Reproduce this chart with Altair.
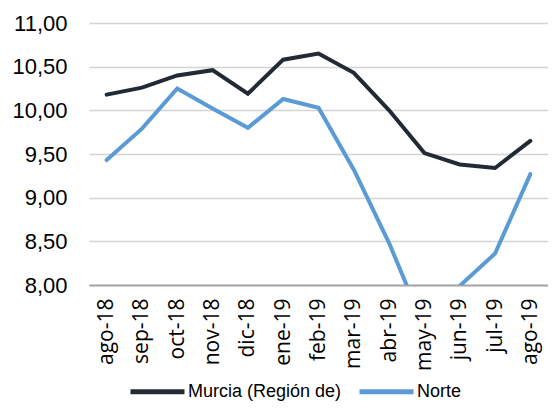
import altair as alt
import pandas as pd

months = ["ago-18", "sep-18", "oct-18", "nov-18", "dic-18", "ene-19", "feb-19",
          "mar-19", "abr-19", "may-19", "jun-19", "jul-19", "ago-19"]
series = ["Murcia (Región de)", "Norte"]
murcia = [10.18, 10.26, 10.40, 10.46, 10.19, 10.58, 10.65, 10.43, 10.00, 9.51, 9.38, 9.34, 9.65]
norte = [9.43, 9.79, 10.25, 10.02, 9.80, 10.13, 10.03, 9.32, 8.48, 7.51, 7.99, 8.36, 9.27]
colors = ["#222a35", "#5b9bd5"]
y_ticks = [8.0, 8.5, 9.0, 9.5, 10.0, 10.5, 11.0]

rows = []
for s, vals in zip(series, [murcia, norte]):
    for m, v in zip(months, vals):
        rows.append({"mes": m, "serie": s, "valor": v})
df = pd.DataFrame(rows)

chart = alt.Chart(df).mark_line(strokeWidth=4, clip=True, strokeCap="round").encode(
    x=alt.X("mes:O", sort=months,
            axis=alt.Axis(title=None, labelAngle=-90, labelFont="Open Sans", labelFontSize=21,
                          labelColor="#000000", ticks=False, domainColor="#a6a6a6",
                          domainWidth=2, labelPadding=13, grid=False)),
    y=alt.Y("valor:Q", scale=alt.Scale(domain=[8, 11], nice=False, zero=False),
            axis=alt.Axis(title=None, values=y_ticks, domain=False, ticks=False,
                          labelExpr="replace(format(datum.value, '.2f'), '.', ',')",
                          labelFont="Liberation Sans", labelFontSize=22, labelColor="#000000",
                          labelPadding=22, gridColor="#d4d4d4", gridWidth=1.5)),
    color=alt.Color("serie:N", scale=alt.Scale(domain=series, range=colors),
                    legend=alt.Legend(title=None, orient="none", direction="horizontal",
                                      legendX=39, legendY=339, symbolType="stroke",
                                      symbolSize=2916, symbolStrokeWidth=5,
                                      labelFont="Liberation Sans", labelFontSize=18,
                                      labelColor="#000000", labelOffset=1,
                                      columnPadding=7, padding=0)),
).properties(
    width=459, height=262,
    padding={"left": 81, "top": 15, "right": 0, "bottom": 120},
    autosize=alt.AutoSizeParams(type="none"),
).configure_view(stroke=None)

chart.save("out.html", embed_options={"renderer": "svg", "actions": False})
